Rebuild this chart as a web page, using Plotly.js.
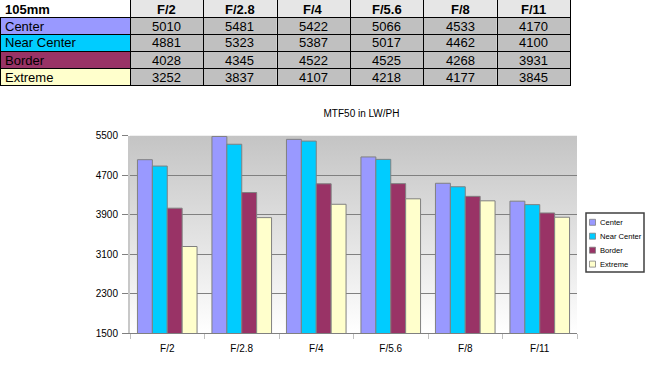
<!DOCTYPE html>
<html>
<head>
<meta charset="utf-8">
<script src="https://cdn.plot.ly/plotly-3.0.1.min.js"></script>
<style>html,body{margin:0;padding:0;background:#fff;}#chart{width:654px;height:373px;}</style>
</head>
<body>
<div id="chart"></div>
<script>
// ---- data ----
const focalLabel = '105mm';
const apertures = ['F/2', 'F/2.8', 'F/4', 'F/5.6', 'F/8', 'F/11'];
const seriesNames = ['Center', 'Near Center', 'Border', 'Extreme'];
const center = [5010, 5481, 5422, 5066, 4533, 4170];
const nearCenter = [4881, 5323, 5387, 5017, 4462, 4100];
const border = [4028, 4345, 4522, 4525, 4268, 3931];
const extreme = [3252, 3837, 4107, 4218, 4177, 3845];
const chartTitle = 'MTF50 in LW/PH';

// ---- styling ----
const W = 654, H = 373;
const FONT = 'Liberation Sans, Arial, sans-serif';
const seriesColors = ['#9999ff', '#00ccff', '#993366', '#ffffcc'];
const px = v => v / W;
const py = v => (H - v) / H;

const seriesValues = [center, nearCenter, border, extreme];

const traces = seriesValues.map((vals, i) => ({
  type: 'bar',
  name: seriesNames[i],
  x: apertures,
  y: vals,
  marker: {color: seriesColors[i], line: {color: '#808080', width: 1}},
  showlegend: false,
  hoverinfo: 'x+y+name'
}));

const shapes = [];
const annotations = [];

// ---- table (cells drawn from the data arrays) ----
const firstColW = 130, colW = 440 / apertures.length, rowH = 17;
const colX = [0, firstColW];
apertures.forEach((a, j) => colX.push(firstColW + colW * (j + 1)));
const tableRight = colX[colX.length - 1];
const nRows = seriesNames.length + 1;

function cellRect(c, r, color) {
  shapes.push({
    type: 'rect', xref: 'paper', yref: 'paper', layer: 'above',
    x0: px(colX[c]), x1: px(colX[c + 1]), y0: py(r * rowH + rowH), y1: py(r * rowH),
    line: {width: 0}, fillcolor: color
  });
}
function cellText(c, r, text, bold) {
  const left = c === 0;
  annotations.push({
    xref: 'paper', yref: 'paper',
    x: left ? px(colX[c] + 3) : px((colX[c] + colX[c + 1]) / 2),
    y: py(r * rowH + rowH / 2 + 0.5),
    xanchor: left ? 'left' : 'center', yanchor: 'middle', showarrow: false,
    text: bold ? '<b>' + text + '</b>' : text,
    font: {family: FONT, size: 13, color: '#000000'}
  });
}
// header
cellRect(0, 0, '#ffffff');
cellText(0, 0, focalLabel, true);
apertures.forEach((a, j) => { cellRect(j + 1, 0, '#e6e6e6'); cellText(j + 1, 0, a, true); });
// body
seriesNames.forEach((n, i) => {
  cellRect(0, i + 1, seriesColors[i]);
  cellText(0, i + 1, n, false);
  apertures.forEach((a, j) => {
    cellRect(j + 1, i + 1, '#c0c0c0');
    cellText(j + 1, i + 1, String(seriesValues[i][j]), false);
  });
});
// grid lines
function hline(y, x0, x1) {
  shapes.push({type: 'line', xref: 'paper', yref: 'paper', layer: 'above',
    x0: px(x0), x1: px(x1), y0: py(y), y1: py(y), line: {color: '#000000', width: 1}});
}
function vline(x, y0, y1) {
  shapes.push({type: 'line', xref: 'paper', yref: 'paper', layer: 'above',
    x0: px(x), x1: px(x), y0: py(y0), y1: py(y1), line: {color: '#000000', width: 1}});
}
for (let r = 1; r <= nRows; r++) hline(r * rowH + 0.5, 0, tableRight + 1);
vline(0.5, rowH, nRows * rowH + 1);
for (let c = 1; c < colX.length; c++) vline(Math.round(colX[c]) + 0.5, 0, nRows * rowH + 1);

// ---- gradient wall ----
const svg = '<svg xmlns="http://www.w3.org/2000/svg" width="100" height="100" preserveAspectRatio="none">' +
  '<defs><linearGradient id="g" x1="0" y1="0" x2="0" y2="1">' +
  '<stop offset="0" stop-color="#c4c4c4"/><stop offset="1" stop-color="#ffffff"/></linearGradient></defs>' +
  '<rect width="100" height="100" fill="url(#g)"/></svg>';
const svgUri = 'data:image/svg+xml;charset=utf-8,' + encodeURIComponent(svg);

// ---- compact legend ----
const legTop = 213, legBot = 272, legL = 586, legR = 644;
const entryY = [222.3, 236.2, 250.2, 264.1];
shapes.push({
  type: 'rect', xref: 'paper', yref: 'paper',
  x0: px(legL), x1: px(legR), y0: py(legBot), y1: py(legTop),
  line: {color: '#404040', width: 1.5}, fillcolor: '#ffffff'
});
seriesNames.forEach((n, i) => {
  shapes.push({
    type: 'rect', xref: 'paper', yref: 'paper',
    x0: px(589.5), x1: px(595.5), y0: py(entryY[i] + 3), y1: py(entryY[i] - 3),
    line: {color: '#808080', width: 0.8}, fillcolor: seriesColors[i]
  });
  annotations.push({
    xref: 'paper', yref: 'paper', x: px(597.5), y: py(entryY[i]),
    xanchor: 'left', yanchor: 'middle', showarrow: false,
    text: n, font: {family: FONT, size: 7.6, color: '#000000'}
  });
});

const layout = {
  width: W, height: H,
  margin: {l: 0, r: 0, t: 0, b: 0, pad: 0},
  paper_bgcolor: '#ffffff',
  plot_bgcolor: 'rgba(0,0,0,0)',
  font: {family: FONT, size: 10, color: '#000000'},
  title: {
    text: chartTitle, x: px(361.5), y: py(113), xanchor: 'center', yanchor: 'middle',
    xref: 'container', yref: 'container',
    font: {family: FONT, size: 10, color: '#000000'}
  },
  barmode: 'group', bargap: 0.2, bargroupgap: 0,
  showlegend: false,
  xaxis: {
    domain: [px(130), px(577)],
    type: 'category',
    showgrid: false,
    ticks: 'outside', tickson: 'boundaries', ticklen: 5, tickcolor: '#c0c0c0', tickwidth: 1,
    showline: true, linecolor: '#808080', linewidth: 1,
    tickfont: {family: FONT, size: 10, color: '#000000'},
    ticklabelstandoff: 6,
    fixedrange: true
  },
  yaxis: {
    domain: [py(333), py(135.5)],
    range: [1500, 5500], tick0: 1500, dtick: 800,
    showgrid: true, gridcolor: '#808080', gridwidth: 1,
    zeroline: false,
    ticks: 'outside', ticklen: 6, tickcolor: '#808080', tickwidth: 1,
    showline: true, linecolor: '#c8c8c8', linewidth: 2,
    tickfont: {family: FONT, size: 10, color: '#000000'},
    ticklabelstandoff: 2,
    fixedrange: true
  },
  images: [{
    source: svgUri, xref: 'x domain', yref: 'y domain',
    x: 0, y: 1, sizex: 1, sizey: 1, xanchor: 'left', yanchor: 'top',
    sizing: 'stretch', layer: 'below', opacity: 1
  }],
  shapes: shapes,
  annotations: annotations
};

Plotly.newPlot('chart', traces, layout, {displayModeBar: false, staticPlot: true});
</script>
</body>
</html>
